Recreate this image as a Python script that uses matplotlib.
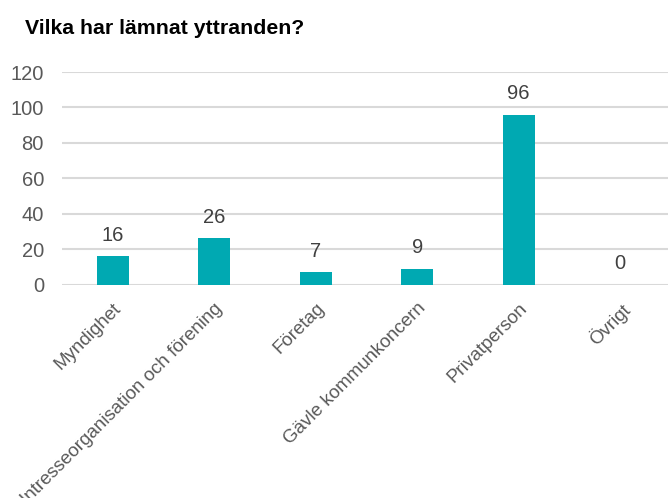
import matplotlib.pyplot as plt

categories = ['Myndighet', 'Intresseorganisation och förening', 'Företag',
              'Gävle kommunkoncern', 'Privatperson', 'Övrigt']
values = [16, 26, 7, 9, 96, 0]
yticks = [0, 20, 40, 60, 80, 100, 120]

plt.rcParams['font.family'] = ['Liberation Sans', 'DejaVu Sans']

fig = plt.figure(figsize=(6.68, 4.98), dpi=100)
ax = fig.add_axes([62 / 668, 213.5 / 498, 609 / 668, 212.5 / 498])

x = range(len(categories))
ax.bar(x, values, width=0.315, color='#00A9B2', zorder=3)
ax.set_xlim(-0.5, len(categories) - 0.5)
ax.set_ylim(0, 120)
ax.set_yticks(yticks)
ax.grid(axis='y', color='#D9D9D9', linewidth=1.5, zorder=0)
for s in ax.spines.values():
    s.set_visible(False)
ax.tick_params(axis='both', length=0)
ax.tick_params(axis='y', labelsize=14.5, labelcolor='#595959', pad=13)

ax.set_xticks(list(x))
ax.set_xticklabels(categories, rotation=45, ha='right', va='top',
                   rotation_mode='anchor', fontsize=13.5, color='#595959')
ax.tick_params(axis='x', pad=11)

for xi, v in zip(x, values):
    ax.annotate(str(v), (xi, v), xytext=(0, 11), textcoords='offset points',
                ha='center', va='baseline', fontsize=14.5, color='#404040')

fig.text(25 / 668, 1 - 28 / 498, 'Vilka har lämnat yttranden?', fontsize=15.3,
         fontweight='bold', color='black', ha='left', va='center')

fig.savefig('out.png', dpi=100)
